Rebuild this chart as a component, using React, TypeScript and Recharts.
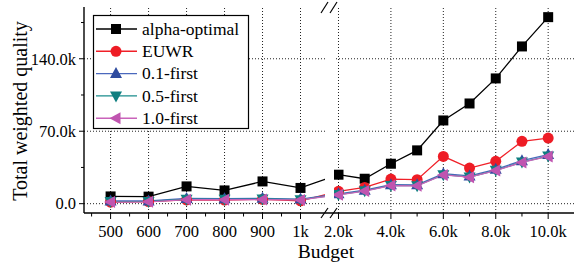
import { LineChart, Line, XAxis, YAxis, ReferenceLine } from 'recharts';

const budgets = [500, 600, 700, 800, 900, 1000, 2000, 3000, 4000, 5000, 6000, 7000, 8000, 9000, 10000];
const alphaOptimal = [7000, 6800, 16700, 12800, 21500, 15200, 28000, 24100, 38600, 51500, 80400, 96800, 121000, 151900, 180200];
const euwr = [1500, 2000, 3600, 3500, 4200, 2800, 11900, 15700, 23800, 23200, 45700, 34400, 40900, 60200, 63400];
const first01 = [2600, 2600, 5000, 4800, 5200, 4500, 9500, 13000, 18300, 18200, 29000, 26800, 33200, 41500, 47500];
const first05 = [2000, 2200, 4300, 4200, 4500, 3900, 8800, 12400, 17600, 17400, 28000, 25800, 32200, 40200, 46000];
const first10 = [1600, 1800, 3900, 3800, 4000, 3600, 8600, 12200, 17500, 17300, 27800, 25600, 32000, 39800, 45600];

const majorXTicks = [500, 600, 700, 800, 900, 1000, 2000, 4000, 6000, 8000, 10000];
const minorXTicks = [450, 550, 650, 750, 850, 950, 3000, 5000, 7000, 9000];
const majorYTicks = [0, 70000, 140000];
const minorYTicks = [35000, 105000, 175000];

const FONT = '"Liberation Serif", "Times New Roman", serif';

// broken axis: 100 per unit up to 1k, then 1k per 0.69 unit from 2k
const toPos = (b: number) => (b <= 1000 ? (b - 500) / 100 : 6 + ((b - 2000) / 1000) * 0.69);

const xLabel = (b: number) => (b < 1000 ? String(b) : b === 1000 ? '1k' : (b / 1000).toFixed(1) + 'k');
const yLabel = (v: number) => (v === 0 ? '0.0' : (v / 1000).toFixed(1) + 'k');

const xMajor = new Map(majorXTicks.map((b) => [toPos(b), xLabel(b)]));
const xTicks = [...majorXTicks, ...minorXTicks].map(toPos);
const yTicks = [...majorYTicks, ...minorYTicks];

const data = budgets.map((b, i) => ({
    pos: toPos(b),
    alpha: alphaOptimal[i],
    euwr: euwr[i],
    f01: first01[i],
    f05: first05[i],
    f10: first10[i],
}));

type Marker = 'square' | 'circle' | 'up' | 'down' | 'left';

const series: { key: string; name: string; line: string; fill: string; marker: Marker }[] = [
    { key: 'alpha', name: 'alpha-optimal', line: '#000000', fill: '#000000', marker: 'square' },
    { key: 'euwr', name: 'EUWR', line: '#f02028', fill: '#ee1c25', marker: 'circle' },
    { key: 'f01', name: '0.1-first', line: '#4a68bd', fill: '#2f4c9f', marker: 'up' },
    { key: 'f05', name: '0.5-first', line: '#1a8c8c', fill: '#0f7f80', marker: 'down' },
    { key: 'f10', name: '1.0-first', line: '#c963ba', fill: '#c055b0', marker: 'left' },
];

function shape(marker: Marker, cx: number, cy: number, fill: string, key?: number) {
    switch (marker) {
        case 'square':
            return <rect key={key} x={cx - 5} y={cy - 5} width={10} height={10} fill={fill} />;
        case 'circle':
            return <circle key={key} cx={cx} cy={cy} r={5.5} fill={fill} />;
        case 'up':
            return <polygon key={key} points={`${cx},${cy - 6.5} ${cx + 6},${cy + 4.5} ${cx - 6},${cy + 4.5}`} fill={fill} />;
        case 'down':
            return <polygon key={key} points={`${cx},${cy + 6.5} ${cx + 6},${cy - 4.5} ${cx - 6},${cy - 4.5}`} fill={fill} />;
        default:
            return <polygon key={key} points={`${cx - 6.5},${cy} ${cx + 4.5},${cy - 6} ${cx + 4.5},${cy + 6}`} fill={fill} />;
    }
}

const BottomTick = (props: any) => {
    const { x, y, payload } = props;
    const label = xMajor.get(payload.value);
    return (
        <g>
            <line x1={x} y1={y} x2={x} y2={y + (label ? 6 : 3.5)} stroke="#000" />
            {label && (
                <text x={x} y={y + 23.5} textAnchor="middle" fontSize={16.5} fontFamily={FONT} fill="#000">
                    {label}
                </text>
            )}
        </g>
    );
};

const TopTick = (props: any) => {
    const { x, y, payload } = props;
    const major = xMajor.has(payload.value);
    return <line x1={x} y1={y} x2={x} y2={y + (major ? 5 : 3)} stroke="#000" />;
};

const LeftTick = (props: any) => {
    const { x, y, payload } = props;
    const major = majorYTicks.includes(payload.value);
    return (
        <g>
            <line x1={x} y1={y} x2={x - (major ? 5 : 3)} y2={y} stroke="#000" />
            {major && (
                <text x={x - 8} y={y} dy="0.35em" textAnchor="end" fontSize={16.5} fontFamily={FONT} fill="#000">
                    {yLabel(payload.value)}
                </text>
            )}
        </g>
    );
};

const RightTick = (props: any) => {
    const { x, y, payload } = props;
    const major = majorYTicks.includes(payload.value);
    return <line x1={x} y1={y} x2={x - (major ? 5 : 3)} y2={y} stroke="#000" />;
};

function Overlay() {
    return (
        <svg width={574} height={264} style={{ position: 'absolute', left: 0, top: 0, pointerEvents: 'none' }}>
            {/* axis break */}
            <rect x={325} y={8} width={9} height={204} fill="#fff" />
            <g stroke="#000" strokeWidth={1.2}>
                <line x1={321} y1={13} x2={328} y2={2} />
                <line x1={330} y1={13} x2={337} y2={2} />
                <line x1={321} y1={218} x2={328} y2={208} />
                <line x1={330} y1={218} x2={337} y2={208} />
            </g>
            {/* legend */}
            <rect x={93.5} y={15.5} width={155} height={113} fill="#fff" stroke="#000" strokeWidth={1.2} />
            {series.map((s, i) => {
                const cy = 29 + i * 22.3;
                return (
                    <g key={s.key}>
                        <line x1={96} y1={cy} x2={137} y2={cy} stroke={s.line} strokeWidth={1.4} />
                        {shape(s.marker, 116, cy, s.fill)}
                        <text x={142} y={cy} dy="0.33em" fontSize={17.5} fontFamily={FONT} fill="#000">
                            {s.name}
                        </text>
                    </g>
                );
            })}
            {/* axis titles */}
            <text x={326} y={258.3} textAnchor="middle" fontSize={19.5} fontFamily={FONT} fill="#000">
                Budget
            </text>
            <text x={27} y={111} transform="rotate(-90 27 111)" textAnchor="middle" fontSize={20} fontFamily={FONT} fill="#000">
                Total weighted quality
            </text>
        </svg>
    );
}

export default function App() {
    return (
        <div style={{ position: 'absolute', left: 0, top: 0, width: 574, height: 264, background: '#fff' }}>
            <LineChart width={574} height={264} data={data} margin={{ top: 7, right: 0, bottom: 0, left: 0 }}>
                {majorXTicks.map((b) => (
                    <ReferenceLine key={'gx' + b} x={toPos(b)} stroke="#222" strokeDasharray="1 2" />
                ))}
                {majorYTicks.map((v) => (
                    <ReferenceLine key={'gy' + v} y={v} stroke="#222" strokeDasharray="1 2" />
                ))}
                <XAxis
                    dataKey="pos"
                    type="number"
                    domain={[-0.7, 12.2]}
                    allowDataOverflow
                    ticks={xTicks}
                    interval={0}
                    tickSize={0}
                    tickMargin={0}
                    tick={<BottomTick />}
                    axisLine={{ stroke: '#000', strokeWidth: 1.4 }}
                    tickLine={false}
                    height={51}
                />
                <XAxis
                    xAxisId="top"
                    orientation="top"
                    dataKey="pos"
                    type="number"
                    domain={[-0.7, 12.2]}
                    allowDataOverflow
                    ticks={xTicks}
                    interval={0}
                    tickSize={0}
                    tickMargin={0}
                    tick={<TopTick />}
                    axisLine={{ stroke: '#000', strokeWidth: 1.4 }}
                    tickLine={false}
                    height={0}
                />
                <YAxis
                    type="number"
                    domain={[-9000, 190000]}
                    allowDataOverflow
                    ticks={yTicks}
                    interval={0}
                    tickSize={0}
                    tickMargin={0}
                    tick={<LeftTick />}
                    axisLine={{ stroke: '#000', strokeWidth: 1.4 }}
                    tickLine={false}
                    width={84}
                />
                <YAxis
                    yAxisId="r"
                    orientation="right"
                    type="number"
                    domain={[-9000, 190000]}
                    allowDataOverflow
                    ticks={yTicks}
                    interval={0}
                    tickSize={0}
                    tickMargin={0}
                    tick={<RightTick />}
                    axisLine={{ stroke: '#000', strokeWidth: 1.4 }}
                    tickLine={false}
                    width={0}
                />
                {series.map((s) => (
                    <Line
                        key={s.key}
                        dataKey={s.key}
                        name={s.name}
                        stroke={s.line}
                        strokeWidth={1.3}
                        isAnimationActive={false}
                        dot={(p: any) => (p.cx == null ? <g key={p.index} /> : shape(s.marker, p.cx, p.cy, s.fill, p.index))}
                        activeDot={false}
                    />
                ))}
            </LineChart>
            <Overlay />
        </div>
    );
}
